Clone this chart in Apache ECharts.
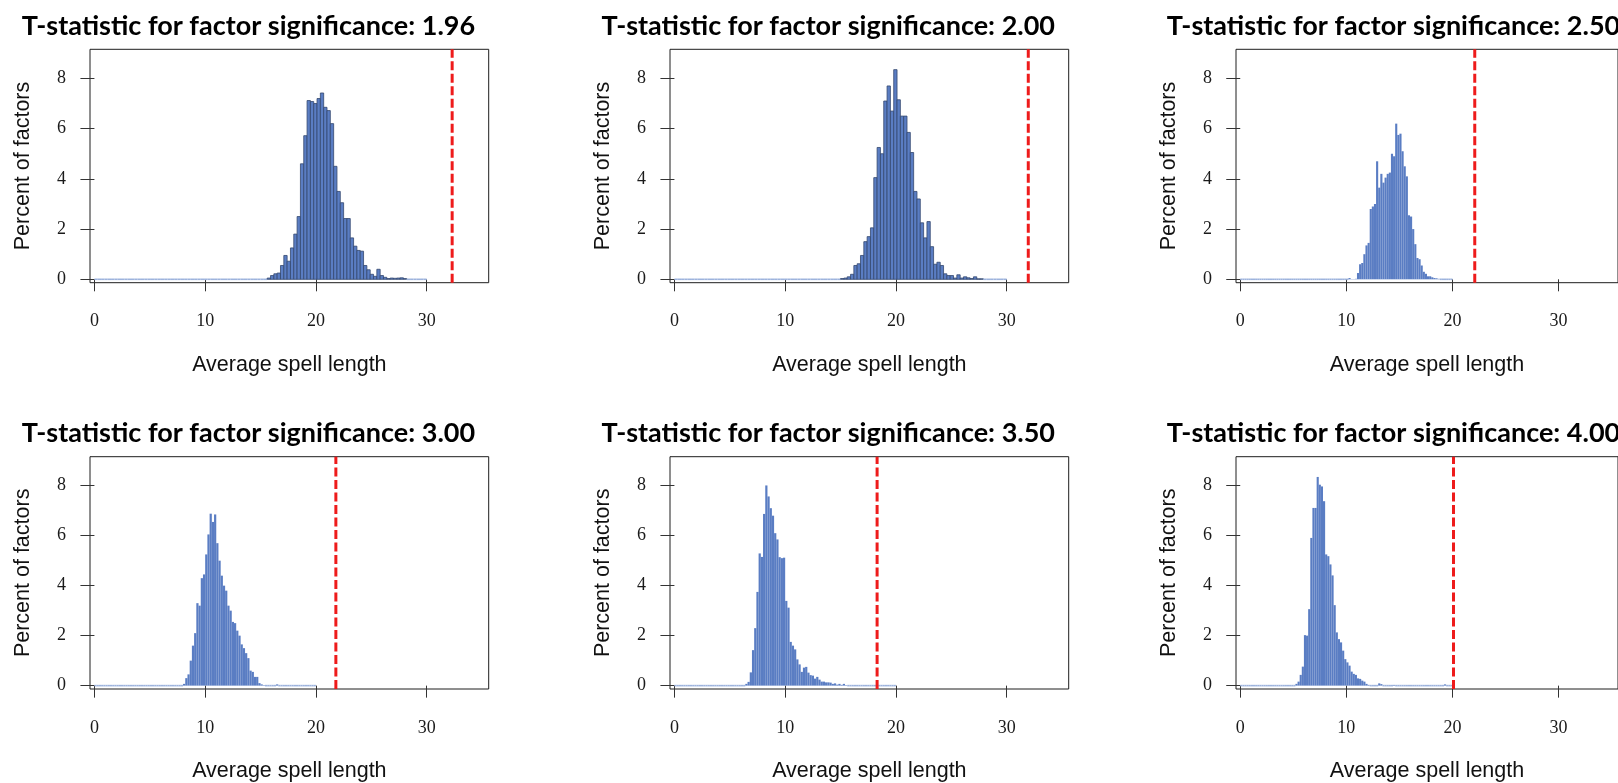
<!DOCTYPE html>
<html>
<head>
<meta charset="utf-8">
<script src="https://cdn.jsdelivr.net/npm/echarts@6/dist/echarts.min.js"></script>
<style>
  html, body { margin: 0; padding: 0; background: #ffffff; }
  #chart { width: 1618px; height: 783px; }
</style>
</head>
<body>
<div id="chart"></div>
<script>
// T-statistic threshold of each panel (used in the panel titles)
const tStats = ['1.96', '2.00', '2.50', '3.00', '3.50', '4.00'];

// Histogram binning: every panel has 100 equal bins from 0 to histEnd
const histEnd = [30, 30, 20, 20, 20, 20];
const binCount = 100;

// Index of the first bin listed in each panel's percentage array
const firstBin = [52, 50, 51, 40, 32, 26];

// Percent of factors in each bin, starting at firstBin (all other bins are 0)
const pct196 = [0.05, 0.15, 0.22, 0.25, 0.55, 0.95, 0.72, 1.25, 1.8, 2.5, 4.6, 5.72, 7.12, 7.08, 7.0, 7.2, 7.42,
  6.85, 6.72, 6.2, 4.5, 3.5, 3.05, 2.42, 2.42, 1.65, 1.32, 1.15, 1.12, 0.55, 0.38, 0.2, 0.12, 0.4, 0.15, 0.08,
  0.03, 0.05, 0.04, 0.05, 0.06, 0.03];
const pct200 = [0.03, 0.05, 0.1, 0.2, 0.55, 0.62, 0.95, 1.5, 1.7, 2.05, 4.05, 5.25, 5.0, 7.1, 7.7, 6.7, 8.35,
  7.15, 6.5, 6.5, 5.85, 5.05, 3.5, 3.2, 2.25, 1.65, 2.3, 1.3, 0.6, 0.68, 0.55, 0.22, 0.15, 0.15, 0.05, 0.18,
  0.05, 0.1, 0.06, 0.03, 0.1, 0.02, 0.02];
const pct250 = [0.05, 0.01, 0.01, 0.02, 0.25, 0.6, 0.65, 1.0, 1.35, 1.45, 2.8, 2.9, 3.0, 4.7, 3.65, 4.2, 3.85,
  4.05, 4.2, 4.25, 5.0, 4.9, 6.2, 5.75, 5.8, 5.1, 4.5, 4.1, 2.55, 2.5, 2.0, 1.4, 0.85, 0.8, 0.55, 0.3, 0.22,
  0.12, 0.12, 0.08, 0.05, 0.04, 0.02];
const pct300 = [0.07, 0.3, 0.45, 1.0, 1.6, 2.1, 3.3, 3.2, 4.3, 4.45, 5.25, 6.05, 6.88, 6.55, 6.85, 5.7, 5.0,
  4.4, 4.0, 3.8, 3.2, 3.0, 2.55, 2.5, 2.2, 2.0, 1.65, 1.5, 1.3, 1.1, 0.6, 0.55, 0.35, 0.35, 0.1, 0.05, 0.02,
  0, 0, 0, 0, 0, 0.05];
const pct350 = [0.07, 0.15, 0.53, 1.42, 2.3, 3.75, 5.29, 5.15, 6.87, 8.01, 7.57, 7.1, 6.8, 6.1, 5.85, 5.14,
  5.1, 5.12, 3.39, 3.12, 1.75, 1.6, 1.45, 1.05, 0.85, 0.55, 0.72, 0.75, 0.52, 0.42, 0.4, 0.28, 0.35, 0.24,
  0.16, 0.16, 0.13, 0.13, 0.12, 0.07, 0.09, 0.04, 0.07, 0.03, 0.07, 0.02];
const pct400 = [0.07, 0.16, 0.43, 0.76, 2.02, 2.0, 3.06, 5.91, 7.11, 7.11, 8.35, 8.04, 7.97, 7.38, 5.25, 5.18,
  4.85, 4.41, 3.22, 2.13, 1.86, 1.73, 1.4, 1.06, 0.93, 0.8, 0.56, 0.47, 0.43, 0.29, 0.27, 0.2, 0.16, 0.07,
  0.03, 0, 0, 0, 0, 0.09, 0.06, 0, 0, 0, 0, 0, 0.03, 0, 0, 0, 0, 0, 0, 0, 0, 0, 0, 0, 0, 0, 0, 0, 0, 0, 0,
  0, 0, 0, 0, 0, 0.05];
const percents = [pct196, pct200, pct250, pct300, pct350, pct400];

// Average spell length marked by the red dashed line in each panel
const cutoffs = [32.3, 31.95, 22.1, 21.8, 18.3, 20.1];

// Axis ticks
const xTicks = [0, 10, 20, 30];
const yTicks = [0, 2, 4, 6, 8];

// ---------------------------------------------------------------------------
// Layout and styling
const colLeft = [90, 670, 1236];
const rowTop = [49.3, 456.7];
const plotW = 398.7;
const plotH = 233.4;
const xMin = -0.4, xMax = 35.6;
const yMin = -0.135, yMax = 9.16;
const titleX = [248.4, 828.3, 1393.5];
const titleY = [26.0, 433.0];

const barFill = '#5a7dc3';
const barStroke = ['#34486f', '#34486f', null, null, null, null];
const barStrokeWidth = [0.8, 0.8, 0, 0, 0, 0];
const zeroLineColor = '#9db3dd';

const serif = 'Liberation Serif';
const sans = 'Liberation Sans';

function binsFor(p) {
  const width = histEnd[p] / binCount;
  const vals = percents[p];
  const rows = [];
  for (let k = 0; k < binCount; k++) {
    const j = k - firstBin[p];
    const h = (j >= 0 && j < vals.length) ? vals[j] : 0;
    rows.push([k * width, (k + 1) * width, h]);
  }
  return rows;
}

const grids = [], xAxes = [], yAxes = [], series = [], graphics = [];

for (let p = 0; p < 6; p++) {
  const row = Math.floor(p / 3), col = p % 3;
  grids.push({
    left: colLeft[col], top: rowTop[row], width: plotW, height: plotH,
    show: true, borderColor: '#1e1e1e', borderWidth: 1, backgroundColor: 'transparent'
  });
  xAxes.push({
    gridIndex: p, type: 'value', min: xMin, max: xMax, offset: 2,
    splitLine: { show: false },
    axisLine: { show: false },
    axisTick: { show: true, length: 12, customValues: xTicks, lineStyle: { color: '#333', width: 1 } },
    axisLabel: { customValues: xTicks, margin: 28, fontFamily: serif, fontSize: 18, color: '#1a1a1a' },
    name: 'Average spell length', nameLocation: 'middle', nameGap: 69,
    nameTextStyle: { fontFamily: sans, fontSize: 21.5, color: '#111' }
  });
  yAxes.push({
    gridIndex: p, type: 'value', min: yMin, max: yMax,
    splitLine: { show: false },
    axisLine: { show: false },
    axisTick: { show: true, length: 14, customValues: yTicks, lineStyle: { color: '#333', width: 1 } },
    axisLabel: { customValues: yTicks, margin: 24, fontFamily: serif, fontSize: 18, color: '#1a1a1a' },
    name: 'Percent of factors', nameLocation: 'middle', nameGap: 56,
    nameTextStyle: { fontFamily: sans, fontSize: 21.5, color: '#111' }
  });

  // histogram bars, drawn bin by bin through the panel's axes
  series.push({
    type: 'custom', xAxisIndex: p, yAxisIndex: p, silent: true,
    data: binsFor(p),
    renderItem: (function (pi) {
      return function (params, api) {
        const x0 = api.value(0), x1 = api.value(1), h = api.value(2);
        const a = api.coord([x0, h]);
        const b = api.coord([x1, 0]);
        if (h <= 0) {
          return {
            type: 'line',
            shape: { x1: a[0], y1: b[1], x2: b[0], y2: b[1] },
            style: { stroke: zeroLineColor, lineWidth: 1.6 }
          };
        }
        return {
          type: 'rect',
          shape: { x: a[0], y: a[1], width: b[0] - a[0], height: b[1] - a[1] },
          style: { fill: barFill, stroke: barStroke[pi], lineWidth: barStrokeWidth[pi] }
        };
      };
    })(p)
  });

  // dashed cut-off line
  series.push({
    type: 'line', xAxisIndex: p, yAxisIndex: p, silent: true, symbol: 'none', z: 5,
    data: [[cutoffs[p], yMin], [cutoffs[p], yMax]],
    lineStyle: { color: '#ee1b1b', width: 3, type: [9, 3.5] }
  });

  graphics.push({
    type: 'text', x: titleX[col], y: titleY[row], silent: true,
    style: {
      text: 'T-statistic for factor significance: ' + tStats[p],
      font: 'bold 27px Lato',
      fill: '#000',
      align: 'center', verticalAlign: 'middle',
      textAlign: 'center', textVerticalAlign: 'middle'
    }
  });
}

const chart = echarts.init(document.getElementById('chart'), null, { renderer: 'canvas' });
chart.setOption({
  animation: false,
  backgroundColor: '#ffffff',
  grid: grids,
  xAxis: xAxes,
  yAxis: yAxes,
  series: series,
  graphic: graphics
});
</script>
</body>
</html>
